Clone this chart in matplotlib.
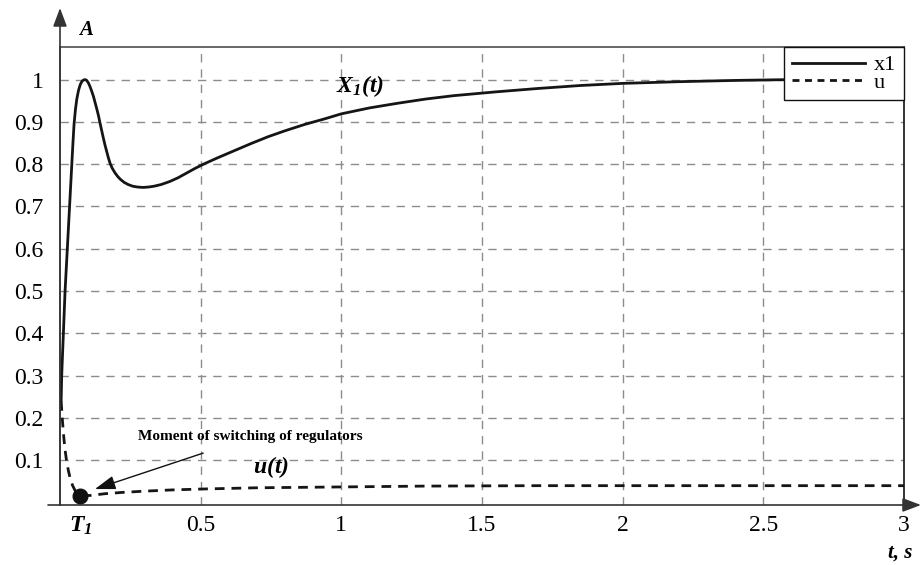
import matplotlib
matplotlib.use("Agg")
import matplotlib.pyplot as plt
from matplotlib.lines import Line2D

plt.rcParams['font.family'] = ['Liberation Serif', 'DejaVu Serif']
plt.rcParams['mathtext.fontset'] = 'custom'
plt.rcParams['mathtext.rm'] = 'Liberation Serif:italic:bold'
plt.rcParams['mathtext.it'] = 'Liberation Serif:italic:bold'
plt.rcParams['mathtext.bf'] = 'Liberation Serif:italic:bold'
plt.rcParams['lines.scale_dashes'] = False

# x1(t)
t_x1 = [0.004, 0.006, 0.009, 0.012, 0.015, 0.018, 0.022, 0.026, 0.030, 0.034,
        0.038, 0.042, 0.046, 0.050, 0.055, 0.060, 0.066, 0.072, 0.078, 0.084,
        0.089, 0.095, 0.101, 0.107, 0.113, 0.119, 0.125, 0.131, 0.137, 0.142,
        0.148, 0.154, 0.160, 0.166, 0.172, 0.178, 0.186, 0.195, 0.205, 0.215,
        0.228, 0.242, 0.258, 0.275, 0.295, 0.315, 0.335, 0.360, 0.390, 0.420,
        0.450, 0.480, 0.510, 0.560, 0.620, 0.680, 0.740, 0.800, 0.870, 0.940,
        1.000, 1.100, 1.200, 1.300, 1.400, 1.550, 1.700, 1.850, 2.000, 2.200,
        2.400, 2.600, 3.000]
x1 = [0.240, 0.300, 0.350, 0.400, 0.450, 0.500, 0.550, 0.600, 0.650, 0.700,
      0.750, 0.800, 0.850, 0.895, 0.930, 0.955, 0.975, 0.988, 0.996, 0.999,
      1.000, 0.998, 0.992, 0.983, 0.972, 0.960, 0.945, 0.930, 0.914, 0.898,
      0.880, 0.862, 0.845, 0.830, 0.815, 0.802, 0.790, 0.780, 0.771, 0.764,
      0.757, 0.752, 0.748, 0.746, 0.745, 0.746, 0.748, 0.752, 0.759, 0.768,
      0.779, 0.790, 0.800, 0.815, 0.832, 0.849, 0.865, 0.879, 0.894, 0.907,
      0.919, 0.933, 0.944, 0.954, 0.962, 0.971, 0.979, 0.986, 0.991, 0.995,
      0.998, 1.000, 1.000]

# u(t)
t_u = [0.004, 0.008, 0.012, 0.017, 0.023, 0.030, 0.037, 0.045, 0.054, 0.063,
       0.072, 0.11, 0.16, 0.22, 0.30, 0.40, 0.50, 0.70, 1.00, 1.30,
       1.70, 2.20, 3.00]
u = [0.240, 0.200, 0.165, 0.130, 0.100, 0.075, 0.055, 0.040, 0.028, 0.021,
     0.016, 0.017, 0.021, 0.024, 0.027, 0.030, 0.032, 0.035, 0.037, 0.039,
     0.040, 0.040, 0.040]

t_switch = 0.072
u_switch = 0.016

x_ticks = [t_switch, 0.5, 1, 1.5, 2, 2.5, 3]
x_labels = [r'$T_1$', '0.5', '1', '1.5', '2', '2.5', '3']
y_ticks = [0.1, 0.2, 0.3, 0.4, 0.5, 0.6, 0.7, 0.8, 0.9, 1.0]
y_labels = ['0.1', '0.2', '0.3', '0.4', '0.5', '0.6', '0.7', '0.8', '0.9', '1']

W, H = 922, 565
fig = plt.figure(figsize=(W / 100, H / 100), dpi=100)
ax = fig.add_axes([60 / W, 1 - 505 / H, (904 - 60) / W, (505 - 47) / H])

ax.set_xlim(0, 3)
ax.set_ylim(-0.0057, 1.077)

# grid
for xv in [0.5, 1, 1.5, 2, 2.5]:
    ax.axvline(xv, color='0.55', lw=1, dashes=(6, 5), zorder=1)
for yv in y_ticks:
    ax.axhline(yv, color='0.55', lw=1, dashes=(6, 5), zorder=1)

ax.plot(t_x1, x1, color='#151515', lw=2.0, solid_capstyle='round', zorder=3)
ax.plot(t_u, u, color='#151515', lw=2.0, dashes=(7, 5), zorder=3)
ax.plot([t_switch], [u_switch], 'o', color='#111111', ms=10.5, zorder=4)

ax.set_xticks(x_ticks)
ax.set_xticklabels(x_labels)
ax.set_yticks(y_ticks)
ax.set_yticklabels(y_labels)
ax.tick_params(length=0, labelsize=17)
ax.tick_params(axis='y', pad=12)
ax.tick_params(axis='x', pad=7)

for s in ['left', 'top']:
    ax.spines[s].set_color('0.3')
    ax.spines[s].set_linewidth(1.2)
ax.spines['right'].set_color('#111111')
ax.spines['right'].set_linewidth(1.2)
ax.spines['bottom'].set_visible(False)

# axis arrows
arrow = dict(arrowstyle='-|>,head_length=0.8,head_width=0.3', color='0.2',
             lw=1.2, shrinkA=0, shrinkB=0, mutation_scale=14)
ax.annotate('', xy=(60 / W, 1 - 8 / H), xytext=(60 / W, 1 - 505 / H),
            xycoords='figure fraction', textcoords='figure fraction',
            arrowprops=arrow, annotation_clip=False)
ax.annotate('', xy=(921 / W, 1 - 505 / H), xytext=(48 / W, 1 - 505 / H),
            xycoords='figure fraction', textcoords='figure fraction',
            arrowprops=arrow, annotation_clip=False)

fig.text(86 / W, 1 - 30 / H, 'A', fontsize=15, fontweight='bold',
         fontstyle='italic', ha='center', va='center')
fig.text(900 / W, 1 - 553 / H, 't, s', fontsize=15, fontweight='bold',
         fontstyle='italic', ha='center', va='center')

ax.text(1.066, 0.985, r'$X_1(t)$', fontsize=17, ha='center', va='center')
ax.text(0.75, 0.084, r'$u(t)$', fontsize=17, ha='center', va='center')
ax.text(0.675, 0.157, 'Moment of switching of regulators', fontsize=11,
        fontweight='bold', ha='center', va='center')
ax.annotate('', xy=(0.124, 0.032), xytext=(0.509, 0.117),
            arrowprops=dict(arrowstyle='-|>,head_length=0.9,head_width=0.3',
                            color='#111111', lw=1.0, shrinkA=0, shrinkB=0,
                            mutation_scale=14))

handles = [Line2D([], [], color='#151515', lw=2.0),
           Line2D([], [], color='#151515', lw=2.0, dashes=(5, 4))]
leg = ax.legend(handles, ['x1', 'u'], loc='upper right', borderaxespad=0,
                fontsize=16, handlelength=3.3, handletextpad=0.4,
                labelspacing=-0.15, borderpad=0.35, fancybox=False,
                framealpha=1, edgecolor='#111111')
leg.get_frame().set_linewidth(1.0)
leg.set_zorder(5)

fig.savefig('out.png', dpi=100)
